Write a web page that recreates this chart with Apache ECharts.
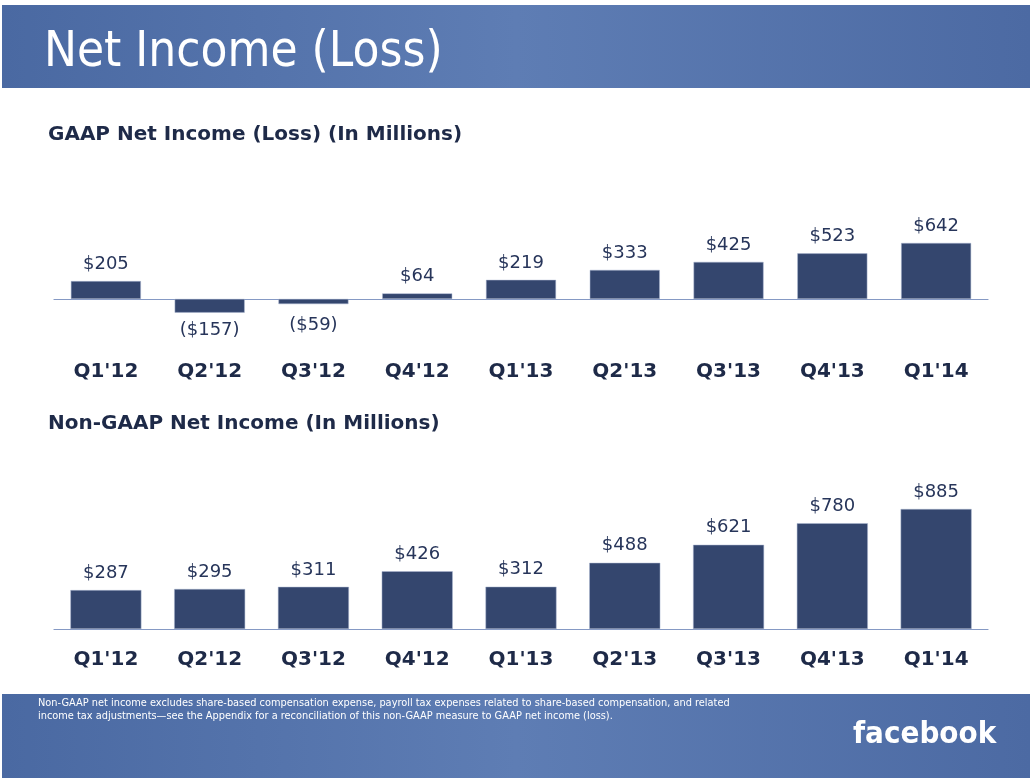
<!DOCTYPE html>
<html><head><meta charset="utf-8">
<script src="https://cdn.jsdelivr.net/npm/echarts@6/dist/echarts.min.js"></script>
<style>html,body{margin:0;padding:0;background:#fff}#c{width:1033px;height:782px}</style>
</head><body><div id="c"></div>
<script>
const categories = ["Q1'12","Q2'12","Q3'12","Q4'12","Q1'13","Q2'13","Q3'13","Q4'13","Q1'14"];
const gaapValues = [205,-157,-59,64,219,333,425,523,642];
const nonGaapValues = [287,295,311,426,312,488,621,780,885];
const titleText = "Net Income (Loss)";
const gaapTitle = "GAAP Net Income (Loss) (In Millions)";
const nonGaapTitle = "Non-GAAP Net Income (In Millions)";
const footnoteLines = [
 "Non-GAAP net income excludes share-based compensation expense, payroll tax expenses related to share-based compensation, and related",
 "income tax adjustments\u2014see the Appendix for a reconciliation of this non-GAAP measure to GAAP net income (loss)."
];

const navy = '#34466e';
const textDark = '#1e2a48';
const fmt = v => v < 0 ? '($' + Math.abs(v) + ')' : '$' + v;
const bandGrad = new echarts.graphic.LinearGradient(0,0,1,0,[
  {offset:0,color:'#4a69a2'},{offset:0.5,color:'#5e7db4'},{offset:1,color:'#4c6aa3'}]);

const chart = echarts.init(document.getElementById('c'));
chart.setOption({
  animation:false,
  backgroundColor:'#fff',
  grid:[
    {left:54,right:45,top:229.2,height:87.2},
    {left:54,right:45,top:493.4,height:135.6}
  ],
  xAxis:[
    {gridIndex:0,type:'category',data:categories,
     axisLine:{onZero:true,lineStyle:{color:'#8599c4',width:1.2}},axisTick:{show:false},
     axisLabel:{margin:45,fontFamily:'DejaVu Sans',fontWeight:'bold',fontSize:20,color:textDark}},
    {gridIndex:1,type:'category',data:categories,
     axisLine:{lineStyle:{color:'#8599c4',width:1.2}},axisTick:{show:false},
     axisLabel:{margin:21,fontFamily:'DejaVu Sans',fontWeight:'bold',fontSize:20,color:textDark}}
  ],
  yAxis:[
    {gridIndex:0,type:'value',min:-200,max:800,show:false,splitLine:{show:false}},
    {gridIndex:1,type:'value',min:0,max:1000,show:false,splitLine:{show:false}}
  ],
  series:[
    {type:'bar',xAxisIndex:0,yAxisIndex:0,barWidth:70,
     data:gaapValues.map(v=>({value:v,label:{position:v<0?'bottom':'top',distance:v<0?(v>-100?12:9):8}})),
     itemStyle:{color:navy,borderColor:'#aab6d0',borderWidth:0.5},
     label:{show:true,formatter:p=>fmt(p.value),fontFamily:'DejaVu Sans',fontSize:18,color:'#27355a'}},
    {type:'bar',xAxisIndex:1,yAxisIndex:1,barWidth:71,
     data:nonGaapValues,
     itemStyle:{color:navy,borderColor:'#aab6d0',borderWidth:0.5},
     label:{show:true,position:'top',distance:8,formatter:p=>fmt(p.value),fontFamily:'DejaVu Sans',fontSize:18,color:'#27355a'}}
  ],
  graphic:[
    {type:'rect',shape:{x:2,y:5,width:1028,height:83},style:{fill:bandGrad},silent:true},
    {type:'text',left:44,top:29,style:{text:titleText,fill:'#fff',font:'49px "DejaVu Sans Condensed", "DejaVu Sans"'}},
    {type:'text',left:48,top:125,style:{text:gaapTitle,fill:textDark,font:'bold 20px "DejaVu Sans"'}},
    {type:'text',left:48,top:414,style:{text:nonGaapTitle,fill:textDark,font:'bold 20px "DejaVu Sans"'}},
    {type:'rect',shape:{x:2,y:694,width:1028,height:84},style:{fill:bandGrad},silent:true},
    {type:'text',left:38,top:697,style:{text:footnoteLines.join('\n'),fill:'#fff',lineHeight:13,font:'10.9px "Liberation Sans Narrow", "DejaVu Sans Condensed"'}},
    {type:'text',left:853,top:719,style:{text:'facebook',fill:'#fff',font:'bold 31px "DejaVu Sans Condensed", "Liberation Sans Narrow"'}}
  ]
});
</script></body></html>
